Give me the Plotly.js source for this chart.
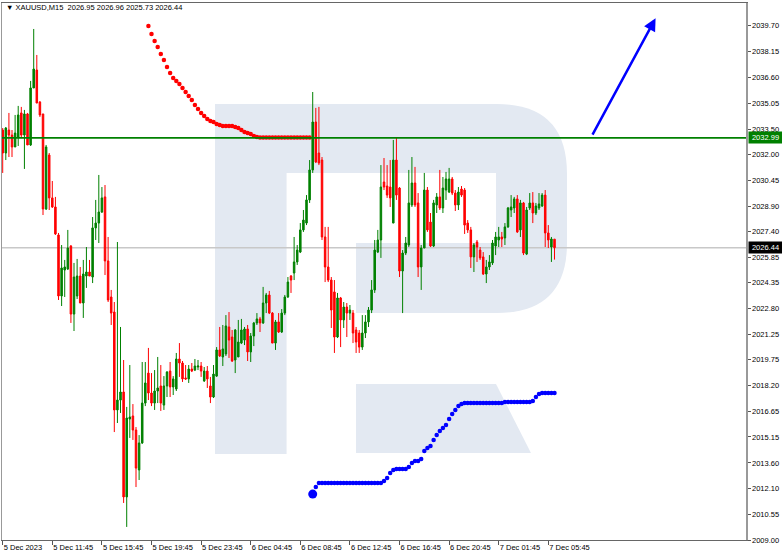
<!DOCTYPE html>
<html>
<head>
<meta charset="utf-8">
<script src="https://cdn.plot.ly/plotly-3.0.1.min.js"></script>
<style>
  html, body { margin: 0; padding: 0; background: #ffffff; }
  #chart { width: 782px; height: 558px; }
</style>
</head>
<body>
<div id="chart"></div>
<script>
// ---- Data (XAUUSD, M15) ----
const symbol = "XAUUSD,M15";
const lastOHLC = ["2026.95", "2026.96", "2025.73", "2026.44"];

const openP = [
  2033.46, 2032.09, 2033.46, 2033.16, 2032.45, 2033.04, 2034.48, 2033.16, 2034.42, 2032.57,
  2035.97, 2037.04, 2035.13, 2034.42, 2028.75, 2031.97, 2029.41, 2028.87, 2027.20, 2023.56,
  2025.11, 2025.17, 2026.54, 2022.48, 2023.56, 2024.75, 2023.14, 2024.75, 2024.99, 2024.69,
  2027.62, 2027.91, 2028.57, 2029.47, 2025.65, 2023.50, 2022.60, 2016.76, 2017.35, 2017.83,
  2011.57, 2016.22, 2016.40, 2015.56, 2013.18, 2014.79, 2017.17, 2018.96, 2017.77, 2017.17,
  2017.89, 2018.19, 2017.05, 2018.19, 2019.08, 2018.13, 2018.01, 2019.80, 2019.56, 2018.67,
  2018.61, 2019.20, 2019.14, 2019.32, 2019.38, 2018.49, 2019.08, 2018.19, 2017.53, 2018.78,
  2020.34, 2019.92, 2020.10, 2021.71, 2021.11, 2019.74, 2019.92, 2020.75, 2020.93, 2021.59,
  2020.22, 2021.17, 2021.95, 2022.19, 2021.95, 2023.14, 2023.62, 2022.54, 2020.75, 2022.01,
  2021.41, 2022.54, 2023.50, 2024.75, 2024.93, 2025.59, 2026.18, 2027.50, 2027.91, 2029.29,
  2031.08, 2033.94, 2032.09, 2031.67, 2027.08, 2025.29, 2024.51, 2023.80, 2021.11, 2023.44,
  2022.13, 2022.90, 2022.54, 2022.54, 2021.53, 2021.35, 2020.51, 2021.35, 2022.01, 2022.72,
  2023.92, 2026.18, 2026.90, 2030.36, 2030.12, 2030.06, 2027.91, 2031.67, 2030.00, 2025.05,
  2026.12, 2026.60, 2028.99, 2030.30, 2029.11, 2025.29, 2026.42, 2029.88, 2027.97, 2026.54,
  2028.99, 2029.47, 2028.81, 2029.88, 2029.76, 2030.54, 2029.70, 2028.99, 2029.94, 2029.88,
  2027.91, 2027.50, 2025.89, 2026.78, 2026.30, 2025.89, 2024.87, 2025.29, 2025.53, 2026.54,
  2026.90, 2027.08, 2027.02, 2027.68, 2028.69, 2028.81, 2029.35, 2027.50, 2029.11, 2026.06,
  2028.81, 2029.11, 2028.51, 2028.81, 2028.93, 2029.58, 2027.32, 2026.48, 2026.95
];
const highP = [
  2033.58, 2033.64, 2034.48, 2033.46, 2034.36, 2034.90, 2034.84, 2034.66, 2034.48, 2036.39,
  2039.49, 2037.94, 2035.19, 2034.42, 2032.57, 2032.09, 2030.42, 2029.47, 2027.32, 2026.60,
  2025.71, 2027.50, 2026.60, 2025.53, 2025.77, 2025.29, 2025.71, 2026.48, 2025.71, 2028.27,
  2029.29, 2030.78, 2030.06, 2030.18, 2027.08, 2023.92, 2023.20, 2026.78, 2021.71, 2019.74,
  2016.94, 2019.44, 2017.11, 2015.74, 2015.26, 2019.62, 2019.62, 2020.46, 2018.96, 2019.14,
  2019.92, 2019.44, 2018.78, 2019.08, 2019.62, 2018.78, 2020.16, 2020.75, 2019.68, 2019.44,
  2019.44, 2019.56, 2019.80, 2019.74, 2019.62, 2019.32, 2019.38, 2018.73, 2019.44, 2020.51,
  2021.71, 2021.83, 2022.42, 2022.60, 2021.53, 2021.59, 2022.13, 2022.19, 2021.71, 2021.83,
  2021.35, 2022.01, 2022.54, 2022.31, 2024.10, 2023.74, 2023.86, 2022.60, 2022.13, 2022.54,
  2022.78, 2023.62, 2024.69, 2024.81, 2027.08, 2026.60, 2027.91, 2028.69, 2029.58, 2031.67,
  2035.73, 2034.78, 2034.84, 2031.85, 2027.68, 2027.68, 2024.69, 2024.51, 2023.74, 2023.50,
  2023.20, 2023.14, 2023.02, 2022.72, 2021.71, 2021.53, 2022.42, 2022.42, 2022.90, 2024.51,
  2026.90, 2027.50, 2031.37, 2031.79, 2031.37, 2031.67, 2032.87, 2032.99, 2030.06, 2026.30,
  2027.08, 2031.08, 2031.85, 2031.26, 2029.70, 2026.60, 2030.90, 2030.06, 2028.51, 2029.29,
  2029.70, 2031.08, 2030.66, 2030.96, 2031.20, 2030.66, 2029.88, 2030.06, 2030.12, 2030.00,
  2028.09, 2027.68, 2026.72, 2026.90, 2026.48, 2026.18, 2025.71, 2026.00, 2026.90, 2027.38,
  2027.68, 2027.38, 2027.91, 2028.87, 2029.58, 2029.47, 2029.58, 2029.29, 2029.17, 2028.87,
  2029.70, 2029.76, 2029.11, 2029.70, 2029.70, 2029.88, 2027.79, 2027.08, 2026.96
];
const lowP = [
  2030.90, 2031.67, 2031.85, 2031.85, 2032.45, 2032.51, 2033.04, 2031.14, 2032.57, 2032.51,
  2035.97, 2035.07, 2034.24, 2028.39, 2028.69, 2028.69, 2028.81, 2027.20, 2023.32, 2022.96,
  2023.50, 2025.11, 2021.95, 2021.47, 2023.38, 2023.14, 2022.25, 2024.04, 2024.75, 2024.33,
  2026.90, 2026.72, 2028.51, 2024.81, 2023.20, 2021.83, 2015.44, 2015.98, 2016.58, 2011.21,
  2009.78, 2015.09, 2014.97, 2012.16, 2012.58, 2014.73, 2016.99, 2017.35, 2016.99, 2016.76,
  2017.17, 2016.70, 2016.76, 2017.53, 2017.53, 2017.65, 2017.89, 2018.73, 2018.43, 2018.55,
  2018.37, 2019.02, 2019.08, 2019.14, 2018.73, 2018.43, 2018.07, 2017.17, 2017.47, 2018.73,
  2019.92, 2019.38, 2019.98, 2019.86, 2019.62, 2018.96, 2019.92, 2020.69, 2020.63, 2019.68,
  2019.62, 2020.57, 2021.83, 2021.41, 2021.89, 2022.54, 2022.48, 2020.75, 2020.34, 2021.35,
  2021.35, 2022.42, 2023.44, 2023.74, 2024.51, 2025.41, 2026.12, 2027.38, 2027.79, 2029.11,
  2030.90, 2031.49, 2031.37, 2026.90, 2024.39, 2024.39, 2021.65, 2020.16, 2021.05, 2020.51,
  2021.65, 2021.11, 2022.13, 2020.75, 2020.16, 2020.16, 2020.34, 2021.05, 2021.71, 2022.54,
  2023.74, 2026.12, 2025.83, 2029.88, 2029.41, 2028.87, 2027.91, 2029.29, 2024.69, 2022.54,
  2026.00, 2026.48, 2028.87, 2028.87, 2024.69, 2023.92, 2026.42, 2027.38, 2026.48, 2026.48,
  2028.51, 2028.69, 2028.51, 2029.29, 2029.70, 2029.58, 2028.63, 2028.69, 2029.47, 2027.26,
  2027.32, 2025.23, 2024.99, 2025.59, 2025.71, 2024.81, 2024.33, 2025.11, 2025.41, 2026.00,
  2026.48, 2026.48, 2026.60, 2027.62, 2028.27, 2028.51, 2027.32, 2027.08, 2026.00, 2026.00,
  2028.69, 2027.91, 2028.39, 2028.69, 2028.87, 2026.48, 2026.42, 2025.59, 2025.73
];
const closeP = [
  2032.09, 2033.58, 2033.16, 2032.45, 2033.28, 2034.36, 2033.16, 2034.42, 2032.57, 2035.97,
  2037.10, 2035.07, 2034.36, 2028.75, 2032.45, 2029.41, 2028.87, 2027.26, 2023.56, 2025.23,
  2025.29, 2026.42, 2022.48, 2024.69, 2024.75, 2023.14, 2024.87, 2024.99, 2024.75, 2027.62,
  2027.91, 2028.57, 2029.41, 2025.65, 2023.32, 2022.54, 2016.76, 2017.35, 2017.83, 2011.57,
  2016.28, 2016.34, 2015.56, 2013.29, 2014.79, 2017.17, 2018.37, 2017.77, 2017.17, 2017.89,
  2018.07, 2017.17, 2018.19, 2019.02, 2018.13, 2018.61, 2019.80, 2019.56, 2018.61, 2018.61,
  2019.20, 2019.08, 2019.38, 2019.38, 2019.08, 2019.08, 2018.61, 2017.53, 2018.90, 2020.34,
  2019.98, 2020.40, 2021.77, 2020.93, 2019.68, 2021.53, 2020.81, 2021.53, 2021.59, 2020.22,
  2021.17, 2021.95, 2022.19, 2021.95, 2023.14, 2023.62, 2022.54, 2020.75, 2022.01, 2021.41,
  2022.54, 2023.50, 2024.39, 2024.51, 2025.59, 2026.30, 2027.50, 2028.09, 2029.29, 2031.08,
  2033.94, 2031.55, 2031.49, 2027.08, 2025.29, 2024.51, 2022.72, 2021.11, 2023.44, 2022.13,
  2022.90, 2022.54, 2022.72, 2021.35, 2020.81, 2020.51, 2021.35, 2022.01, 2022.72, 2023.92,
  2026.30, 2026.90, 2030.06, 2030.06, 2029.58, 2029.41, 2031.67, 2029.58, 2025.05, 2026.12,
  2026.72, 2029.11, 2030.30, 2028.99, 2025.29, 2026.42, 2029.88, 2027.50, 2026.54, 2029.11,
  2029.47, 2028.81, 2030.00, 2030.54, 2030.54, 2029.70, 2028.99, 2029.76, 2029.58, 2027.79,
  2027.50, 2025.89, 2026.60, 2026.48, 2025.83, 2024.87, 2025.29, 2025.59, 2026.72, 2027.08,
  2027.08, 2026.96, 2027.68, 2028.81, 2028.87, 2029.35, 2027.38, 2029.11, 2026.12, 2028.69,
  2029.11, 2028.51, 2028.93, 2029.05, 2029.58, 2027.32, 2026.90, 2026.96, 2026.44
];

// Trend indicator dots (red = above price, blue = below price)
const redStartBar = 47;
const redDots = [
  2039.67, 2039.19, 2038.77, 2038.42, 2038.00, 2037.64, 2037.22, 2036.86, 2036.57, 2036.39,
  2036.21, 2035.97, 2035.73, 2035.49, 2035.25, 2034.95, 2034.72, 2034.48, 2034.30, 2034.12,
  2034.00, 2033.94, 2033.82, 2033.76, 2033.70, 2033.70, 2033.70, 2033.70, 2033.64, 2033.58,
  2033.46, 2033.34, 2033.28, 2033.22, 2033.10, 2033.04,
  2033.02, 2033.02, 2033.02, 2033.02, 2033.02, 2033.02, 2033.02, 2033.02, 2033.02,
  2033.02, 2033.02, 2033.02, 2033.02, 2033.02, 2033.02, 2033.02, 2033.02
];
const blueStartBar = 100;
const blueDots = [
  2011.74, 2012.16,
  2012.40, 2012.40, 2012.40, 2012.40, 2012.40, 2012.40, 2012.40, 2012.40, 2012.40, 2012.40, 2012.40,
  2012.40, 2012.40, 2012.40, 2012.40, 2012.40, 2012.40, 2012.40, 2012.40, 2012.40, 2012.40,
  2012.52, 2012.70, 2013.00, 2013.18, 2013.24, 2013.24, 2013.24, 2013.24,
  2013.36, 2013.59, 2013.71, 2013.71, 2013.83, 2014.31, 2014.49, 2014.61, 2014.97, 2015.26,
  2015.50, 2015.68, 2015.86, 2016.22, 2016.52, 2016.76, 2017.00, 2017.11,
  2017.17, 2017.17, 2017.17, 2017.17, 2017.17, 2017.17, 2017.17, 2017.17, 2017.17, 2017.17, 2017.17, 2017.17, 2017.17,
  2017.23, 2017.23, 2017.23, 2017.23, 2017.23, 2017.23, 2017.23, 2017.23, 2017.23,
  2017.29, 2017.53, 2017.71,
  2017.77, 2017.77, 2017.77, 2017.77, 2017.77
];

const resistanceLevel = 2032.99;
const currentPrice = 2026.44;

const timeTickBars = [0, 16, 32, 48, 64, 80, 96, 112, 128, 144, 160, 176];
const timeTickLabels = ["5 Dec 2023", "5 Dec 11:45", "5 Dec 15:45", "5 Dec 19:45", "5 Dec 23:45",
  "6 Dec 04:45", "6 Dec 08:45", "6 Dec 12:45", "6 Dec 16:45", "6 Dec 20:45", "7 Dec 01:45", "7 Dec 05:45"];
const priceTickLabels = ["2039.70", "2038.15", "2036.60", "2035.05", "2033.50", "2032.00", "2030.45",
  "2028.90", "2027.40", "2025.85", "2024.35", "2022.80", "2021.25", "2019.75", "2018.20", "2016.65",
  "2015.15", "2013.60", "2012.10", "2010.55", "2009.00"];

// forecast arrow (bar index / price)
const arrowFrom = { bar: 190.0, price: 2033.10 };
const arrowTo = { bar: 210.6, price: 2040.13 };

// ---- Build ----
const bars = openP.map((_, i) => i);
const redX = redDots.map((_, k) => redStartBar + k);
const blueX = blueDots.map((_, k) => blueStartBar + k);

const FONT = "Liberation Sans, Arial, sans-serif";
const WM = "#e3e9f2";

const traces = [
  {
    type: "candlestick",
    x: bars, open: openP, high: highP, low: lowP, close: closeP,
    increasing: { line: { color: "#008000", width: 1 }, fillcolor: "#008000" },
    decreasing: { line: { color: "#ff0000", width: 1 }, fillcolor: "#ff0000" },
    whiskerwidth: 0,
    hoverinfo: "skip",
    showlegend: false
  },
  {
    type: "scatter", mode: "markers", x: redX, y: redDots,
    marker: { color: "#ff0000", size: 4.5 },
    hoverinfo: "skip", showlegend: false
  },
  {
    type: "scatter", mode: "markers", x: blueX, y: blueDots,
    marker: { color: "#0000ff", size: 4.5 },
    hoverinfo: "skip", showlegend: false
  },
  {
    type: "scatter", mode: "markers", x: [blueX[0]], y: [blueDots[0]],
    marker: { color: "#0000ff", size: 9 },
    hoverinfo: "skip", showlegend: false
  }
];

const shapes = [
  // watermark logo
  { type: "rect", xref: "paper", yref: "paper", x0: 0.2863, x1: 0.3825, y0: 0.1601, y1: 0.8119, fillcolor: WM, line: { width: 0 }, layer: "below" },
  { type: "rect", xref: "paper", yref: "paper", x0: 0.3810, x1: 0.6660, y0: 0.6834, y1: 0.8119, fillcolor: WM, line: { width: 0 }, layer: "below" },
  { type: "rect", xref: "paper", yref: "paper", x0: 0.4758, x1: 0.6660, y0: 0.4227, y1: 0.5531, fillcolor: WM, line: { width: 0 }, layer: "below" },
  { type: "path", xref: "paper", yref: "paper", path: "M0.6640,0.8119 L0.6653,0.8119 Q0.7594,0.8119 0.7594,0.6816 L0.7594,0.5531 Q0.7594,0.4227 0.6653,0.4227 L0.6640,0.4227 Z", fillcolor: WM, line: { width: 0 }, layer: "below" },
  { type: "path", xref: "paper", yref: "paper", path: "M0.4758,0.2905 L0.6640,0.2905 L0.7110,0.1620 L0.4758,0.1620 Z", fillcolor: WM, line: { width: 0 }, layer: "below" },
  // current price line
  { type: "line", xref: "paper", yref: "y", x0: 0, x1: 1, y0: currentPrice, y1: currentPrice, line: { color: "#c8c8c8", width: 1.5 }, layer: "below" },
  // resistance line
  { type: "line", xref: "paper", yref: "y", x0: 0, x1: 1, y0: resistanceLevel, y1: resistanceLevel, line: { color: "#008000", width: 1.6 }, layer: "above" }
];

const annotations = [
  {
    xref: "paper", yref: "paper", x: 0.0027, y: 0.9907, xanchor: "left", yanchor: "middle",
    text: "\u25BC " + symbol + "  " + lastOHLC.join(" "),
    showarrow: false, font: { family: FONT, size: 7.5, color: "#000000" }
  },
  {
    xref: "paper", yref: "y", x: 1.0027, y: resistanceLevel, xanchor: "left", yanchor: "middle",
    text: resistanceLevel.toFixed(2), showarrow: false, bgcolor: "#008000",
    font: { family: FONT, size: 7.5, color: "#ffffff" }, width: 31, height: 9, borderpad: 1
  },
  {
    xref: "paper", yref: "y", x: 1.0027, y: currentPrice, xanchor: "left", yanchor: "middle",
    text: currentPrice.toFixed(2), showarrow: false, bgcolor: "#000000",
    font: { family: FONT, size: 7.5, color: "#ffffff" }, width: 31, height: 9, borderpad: 1
  },
  {
    xref: "x", yref: "y", x: arrowTo.bar, y: arrowTo.price,
    axref: "x", ayref: "y", ax: arrowFrom.bar, ay: arrowFrom.price,
    text: "", showarrow: true, arrowhead: 2, arrowsize: 1, arrowwidth: 2.5,
    arrowcolor: "#0000ff", standoff: 0, startstandoff: 0
  }
];

const layout = {
  width: 782, height: 558,
  margin: { l: 2, r: 36, t: 3, b: 18, pad: 0 },
  paper_bgcolor: "#ffffff", plot_bgcolor: "#ffffff",
  showlegend: false, hovermode: false, dragmode: false,
  font: { family: FONT, size: 7.5, color: "#000000" },
  xaxis: {
    range: [-0.23, 239.77], showgrid: false, zeroline: false,
    showline: true, linecolor: "#666666", linewidth: 1, mirror: true,
    ticks: "outside", ticklen: 4, tickcolor: "#555555", tickwidth: 1,
    tickmode: "array", tickvals: timeTickBars, ticktext: timeTickLabels,
    ticklabelposition: "outside right",
    tickfont: { family: FONT, size: 7.5, color: "#000000" },
    rangeslider: { visible: false }, fixedrange: true
  },
  yaxis: {
    side: "right", range: [2009.0, 2041.04], showgrid: false, zeroline: false,
    showline: true, linecolor: "#999999", linewidth: 1.5, mirror: true,
    ticks: "outside", ticklen: 3, tickcolor: "#555555", tickwidth: 1,
    tickmode: "array", tickvals: priceTickLabels.map(Number), ticktext: priceTickLabels,
    tickfont: { family: FONT, size: 7.5, color: "#000000" },
    fixedrange: true
  },
  shapes: shapes,
  annotations: annotations
};

Plotly.newPlot("chart", traces, layout, { displayModeBar: false, staticPlot: true });
</script>
</body>
</html>
